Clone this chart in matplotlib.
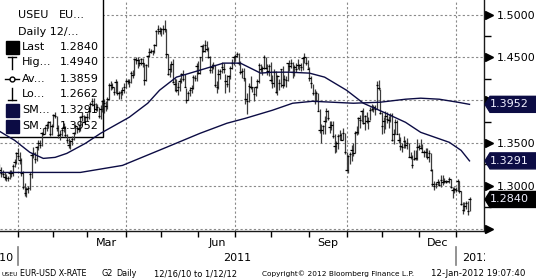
import numpy as np
import pandas as pd
import matplotlib
matplotlib.use("Agg")
import matplotlib.pyplot as plt
from matplotlib.lines import Line2D
from matplotlib.patches import Rectangle, Polygon
from matplotlib.transforms import Bbox, IdentityTransform, blended_transform_factory

plt.rcParams["font.family"] = ["DejaVu Sans"]

# ---- data: USEU EUR-USD daily, 12/16/10 .. 1/12/12 ----
dates = pd.bdate_range("2010-12-16", "2012-01-12")

last_px = [
    # Dec 2010
    1.3230, 1.3185, 1.3145, 1.3140, 1.3100, 1.3085, 1.3090, 1.3145, 1.3145, 1.3235, 1.3280, 1.3380,
    # Jan 2011
    1.3350, 1.3300, 1.3150, 1.2990, 1.2910, 1.2960, 1.2970, 1.3140, 1.3360, 1.3380, 1.3310, 1.3450,
    1.3500, 1.3480, 1.3615, 1.3610, 1.3680, 1.3710, 1.3740, 1.3600, 1.3700,
    # Feb
    1.3830, 1.3810, 1.3670, 1.3590, 1.3610, 1.3650, 1.3690, 1.3590, 1.3540, 1.3480, 1.3520, 1.3550,
    1.3620, 1.3700, 1.3680, 1.3660, 1.3800, 1.3810, 1.3750, 1.3800,
    # Mar
    1.3800, 1.3880, 1.3960, 1.3990, 1.3960, 1.3900, 1.3920, 1.3810, 1.3900, 1.3990, 1.3970, 1.3930,
    1.4020, 1.4180, 1.4180, 1.4160, 1.4100, 1.4210, 1.4090, 1.4080, 1.4100, 1.4120, 1.4160,
    # Apr
    1.4230, 1.4220, 1.4210, 1.4320, 1.4300, 1.4480, 1.4470, 1.4470, 1.4430, 1.4480, 1.4430, 1.4240,
    1.4410, 1.4520, 1.4560, 1.4580, 1.4570, 1.4650, 1.4810, 1.4830, 1.4810,
    # May
    1.4830, 1.4830, 1.4830, 1.4540, 1.4310, 1.4360, 1.4420, 1.4210, 1.4190, 1.4120, 1.4150, 1.4230,
    1.4310, 1.4250, 1.4160, 1.4000, 1.4090, 1.4120, 1.4140, 1.4270, 1.4260, 1.4400,
    # Jun
    1.4320, 1.4500, 1.4640, 1.4580, 1.4650, 1.4600, 1.4510, 1.4350, 1.4390, 1.4410, 1.4180, 1.4150,
    1.4310, 1.4340, 1.4390, 1.4370, 1.4230, 1.4190, 1.4280, 1.4380, 1.4430, 1.4500,
    # Jul
    1.4520, 1.4540, 1.4440, 1.4330, 1.4340, 1.4260, 1.4010, 1.3990, 1.4170, 1.4150, 1.4150, 1.4070,
    1.4150, 1.4230, 1.4410, 1.4370, 1.4380, 1.4500, 1.4380, 1.4340, 1.4400,
    # Aug
    1.4240, 1.4200, 1.4330, 1.4100, 1.4280, 1.4200, 1.4360, 1.4180, 1.4250, 1.4240, 1.4430, 1.4400,
    1.4440, 1.4330, 1.4390, 1.4370, 1.4410, 1.4410, 1.4390, 1.4490, 1.4500, 1.4440, 1.4370,
    # Sep
    1.4260, 1.4200, 1.4090, 1.3990, 1.4080, 1.3880, 1.3650, 1.3650, 1.3700, 1.3760, 1.3880, 1.3790,
    1.3690, 1.3710, 1.3580, 1.3470, 1.3500, 1.3580, 1.3590, 1.3540, 1.3620, 1.3390,
    # Oct
    1.3180, 1.3350, 1.3370, 1.3420, 1.3380, 1.3620, 1.3630, 1.3790, 1.3770, 1.3880, 1.3730, 1.3810,
    1.3760, 1.3760, 1.3890, 1.3900, 1.3920, 1.3900, 1.4180, 1.4140, 1.3850,
    # Nov
    1.3700, 1.3760, 1.3810, 1.3780, 1.3770, 1.3830, 1.3530, 1.3610, 1.3750, 1.3610, 1.3530, 1.3470,
    1.3450, 1.3520, 1.3480, 1.3500, 1.3340, 1.3340, 1.3240, 1.3310, 1.3320, 1.3450,
    # Dec
    1.3460, 1.3440, 1.3400, 1.3390, 1.3400, 1.3340, 1.3380, 1.3180, 1.3020, 1.3000, 1.3020, 1.3040,
    1.3010, 1.3070, 1.3040, 1.3050, 1.3040, 1.3050, 1.3080, 1.2980, 1.2950, 1.2960,
    # Jan 2012
    1.2950, 1.3050, 1.2940, 1.2790, 1.2720, 1.2760, 1.2800, 1.2710, 1.2840,
]

high_px = [
    1.3300, 1.3250, 1.3215, 1.3190, 1.3160, 1.3135, 1.3120, 1.3185, 1.3180, 1.3250, 1.3310, 1.3400,
    1.3440, 1.3400, 1.3320, 1.3170, 1.3030, 1.2990, 1.3000, 1.3160, 1.3380, 1.3450, 1.3400, 1.3460,
    1.3530, 1.3530, 1.3630, 1.3670, 1.3700, 1.3730, 1.3760, 1.3760, 1.3720,
    1.3840, 1.3860, 1.3820, 1.3710, 1.3650, 1.3680, 1.3730, 1.3700, 1.3600, 1.3560, 1.3540, 1.3580,
    1.3630, 1.3720, 1.3700, 1.3720, 1.3820, 1.3860, 1.3830, 1.3820,
    1.3850, 1.3890, 1.3980, 1.4030, 1.4030, 1.3970, 1.3960, 1.3920, 1.3940, 1.4000, 1.4010, 1.3990,
    1.4040, 1.4200, 1.4230, 1.4200, 1.4160, 1.4250, 1.4220, 1.4110, 1.4120, 1.4150, 1.4200,
    1.4250, 1.4250, 1.4250, 1.4340, 1.4350, 1.4490, 1.4510, 1.4500, 1.4480, 1.4490, 1.4490, 1.4430,
    1.4420, 1.4530, 1.4610, 1.4600, 1.4590, 1.4660, 1.4820, 1.4880, 1.4860,
    1.4850, 1.4880, 1.4940, 1.4830, 1.4540, 1.4420, 1.4460, 1.4480, 1.4260, 1.4250, 1.4210, 1.4260,
    1.4320, 1.4350, 1.4310, 1.4140, 1.4110, 1.4150, 1.4180, 1.4300, 1.4290, 1.4430,
    1.4460, 1.4510, 1.4650, 1.4660, 1.4700, 1.4690, 1.4620, 1.4520, 1.4420, 1.4450, 1.4410, 1.4220,
    1.4360, 1.4370, 1.4450, 1.4440, 1.4310, 1.4290, 1.4290, 1.4400, 1.4480, 1.4520,
    1.4540, 1.4560, 1.4550, 1.4460, 1.4380, 1.4380, 1.4260, 1.4090, 1.4200, 1.4280, 1.4160, 1.4160,
    1.4170, 1.4250, 1.4440, 1.4420, 1.4400, 1.4530, 1.4510, 1.4420, 1.4420,
    1.4450, 1.4290, 1.4360, 1.4340, 1.4290, 1.4250, 1.4370, 1.4400, 1.4290, 1.4280, 1.4440, 1.4470,
    1.4480, 1.4450, 1.4410, 1.4440, 1.4480, 1.4420, 1.4440, 1.4510, 1.4550, 1.4500, 1.4470,
    1.4390, 1.4280, 1.4190, 1.4130, 1.4110, 1.4090, 1.3900, 1.3720, 1.3710, 1.3820, 1.3910, 1.3890,
    1.3760, 1.3760, 1.3760, 1.3610, 1.3520, 1.3600, 1.3650, 1.3620, 1.3670, 1.3620,
    1.3400, 1.3360, 1.3400, 1.3480, 1.3500, 1.3640, 1.3700, 1.3800, 1.3830, 1.3890, 1.3910, 1.3830,
    1.3860, 1.3800, 1.3920, 1.3960, 1.3950, 1.3940, 1.4220, 1.4240, 1.4130,
    1.3860, 1.3800, 1.3870, 1.3860, 1.3820, 1.3850, 1.3850, 1.3660, 1.3780, 1.3770, 1.3620, 1.3570,
    1.3500, 1.3580, 1.3530, 1.3560, 1.3500, 1.3400, 1.3360, 1.3420, 1.3420, 1.3550,
    1.3490, 1.3550, 1.3490, 1.3420, 1.3440, 1.3440, 1.3420, 1.3380, 1.3200, 1.3060, 1.3040, 1.3080,
    1.3060, 1.3130, 1.3130, 1.3090, 1.3070, 1.3060, 1.3100, 1.3080, 1.2980, 1.2980,
    1.2980, 1.3080, 1.3060, 1.2940, 1.2810, 1.2810, 1.2820, 1.2820, 1.2870,
]

low_px = [
    1.3180, 1.3130, 1.3100, 1.3105, 1.3070, 1.3060, 1.3060, 1.3080, 1.3105, 1.3120, 1.3220, 1.3260,
    1.3310, 1.3250, 1.3120, 1.2960, 1.2875, 1.2870, 1.2920, 1.2950, 1.3090, 1.3330, 1.3270, 1.3290,
    1.3420, 1.3440, 1.3460, 1.3590, 1.3600, 1.3640, 1.3680, 1.3580, 1.3590,
    1.3690, 1.3790, 1.3640, 1.3560, 1.3540, 1.3580, 1.3630, 1.3570, 1.3500, 1.3440, 1.3430, 1.3480,
    1.3530, 1.3600, 1.3620, 1.3630, 1.3640, 1.3760, 1.3740, 1.3720,
    1.3760, 1.3780, 1.3860, 1.3950, 1.3900, 1.3880, 1.3870, 1.3790, 1.3780, 1.3860, 1.3850, 1.3870,
    1.3900, 1.4000, 1.4120, 1.4130, 1.4060, 1.4080, 1.4060, 1.4010, 1.4020, 1.4060, 1.4090,
    1.4140, 1.4190, 1.4150, 1.4200, 1.4260, 1.4300, 1.4420, 1.4380, 1.4400, 1.4410, 1.4390, 1.4180,
    1.4220, 1.4390, 1.4510, 1.4550, 1.4530, 1.4550, 1.4630, 1.4780, 1.4770,
    1.4750, 1.4780, 1.4800, 1.4490, 1.4300, 1.4270, 1.4330, 1.4200, 1.4110, 1.4100, 1.4060, 1.4110,
    1.4200, 1.4230, 1.4160, 1.3970, 1.4000, 1.4050, 1.4080, 1.4130, 1.4230, 1.4220,
    1.4310, 1.4310, 1.4460, 1.4560, 1.4560, 1.4580, 1.4490, 1.4320, 1.4320, 1.4360, 1.4160, 1.4090,
    1.4130, 1.4250, 1.4320, 1.4320, 1.4080, 1.4150, 1.4100, 1.4250, 1.4360, 1.4410,
    1.4460, 1.4500, 1.4410, 1.4310, 1.4260, 1.4230, 1.3960, 1.3840, 1.3980, 1.4130, 1.4100, 1.3990,
    1.4050, 1.4140, 1.4200, 1.4330, 1.4300, 1.4370, 1.4360, 1.4290, 1.4280,
    1.4210, 1.4140, 1.4160, 1.4080, 1.4060, 1.4120, 1.4150, 1.4140, 1.4170, 1.4150, 1.4220, 1.4340,
    1.4380, 1.4260, 1.4280, 1.4330, 1.4360, 1.4350, 1.4340, 1.4350, 1.4440, 1.4410, 1.4360,
    1.4230, 1.4140, 1.4060, 1.3960, 1.3990, 1.3870, 1.3620, 1.3500, 1.3610, 1.3600, 1.3750, 1.3770,
    1.3620, 1.3650, 1.3560, 1.3380, 1.3390, 1.3430, 1.3540, 1.3530, 1.3530, 1.3370,
    1.3170, 1.3150, 1.3250, 1.3290, 1.3350, 1.3380, 1.3590, 1.3610, 1.3680, 1.3740, 1.3720, 1.3650,
    1.3730, 1.3660, 1.3770, 1.3880, 1.3860, 1.3830, 1.3900, 1.4120, 1.3840,
    1.3600, 1.3620, 1.3660, 1.3730, 1.3670, 1.3740, 1.3520, 1.3490, 1.3600, 1.3600, 1.3500, 1.3420,
    1.3390, 1.3440, 1.3440, 1.3430, 1.3340, 1.3310, 1.3210, 1.3300, 1.3300, 1.3300,
    1.3420, 1.3430, 1.3390, 1.3340, 1.3340, 1.3310, 1.3280, 1.3170, 1.3000, 1.2950, 1.2970, 1.3010,
    1.3000, 1.2990, 1.3010, 1.3030, 1.3030, 1.3040, 1.3030, 1.2970, 1.2860, 1.2920,
    1.2930, 1.2940, 1.2920, 1.2770, 1.2670, 1.2700, 1.2730, 1.2662, 1.2700,
]

# moving averages, read at points along the curves (bar index -> level)
sma_fast_idx = [0, 10, 19, 27, 34, 41, 52, 61, 78, 89, 96, 106, 116, 126, 134, 144, 156, 163,
                173, 185, 194, 207, 217, 229, 242, 251, 268, 275, 280]
sma_fast = [1.3649, 1.3531, 1.3391, 1.3320, 1.3332, 1.3379, 1.3496, 1.3613, 1.3801, 1.3965,
            1.4117, 1.4270, 1.4328, 1.4387, 1.4434, 1.4434, 1.4317, 1.4328, 1.4328, 1.4317,
            1.4270, 1.4117, 1.3965, 1.3860, 1.3742, 1.3625, 1.3508, 1.3414, 1.3291]
sma_slow_idx = [0, 17, 49, 74, 100, 120, 136, 147, 163, 175, 187, 211, 227, 242, 251, 262, 273, 280]
sma_slow = [1.3156, 1.3156, 1.3156, 1.3238, 1.3449, 1.3613, 1.3731, 1.3789, 1.3883, 1.3965,
            1.3988, 1.3965, 1.3977, 1.4012, 1.4024, 1.4012, 1.3977, 1.3952]
avg_px = 1.3859

month_lbl = {3: "Mar", 6: "Jun", 9: "Sep", 12: "Dec"}
y_major = [1.25, 1.30, 1.35, 1.40, 1.45, 1.50]
y_labeled = [1.30, 1.35, 1.45, 1.50]
y_minor = [1.275, 1.325, 1.375, 1.425, 1.475]

assert len(last_px) == len(high_px) == len(low_px) == len(dates)

NAVY = "#0c0c44"
GRID = "#8a8a8a"
W, H = 536, 280
AX_R, AX_B = 484, 230.5

fig = plt.figure(figsize=(W / 100, H / 100), dpi=100, facecolor="white")
ax = fig.add_axes([0, 1 - AX_B / H, AX_R / W, AX_B / H])
ax.set_xlim(1.3, 288.6)
ax.set_ylim(1.2477, 1.5172)

x = np.arange(len(dates))
month_starts = [i for i in range(1, len(dates)) if dates[i].month != dates[i - 1].month]
quarters = [i for i in month_starts if dates[i].month in (1, 4, 7, 10)]

# grid
for y in y_major:
    ax.axhline(y, color=GRID, lw=0.8, ls=(0, (2, 2)), zorder=0.5)
for i in quarters:
    ax.axvline(i, color=GRID, lw=0.8, ls=(0, (2, 2)), zorder=0.5)

# legend panel (sits under the bars, above the grid)
ax.add_patch(Rectangle((-0.02, 1 - 137 / AX_B), 0.02 + 103 / AX_R, 0.05 + 137 / AX_B,
                       transform=ax.transAxes, facecolor="white", edgecolor="black",
                       lw=1, zorder=1, clip_on=False))

# bars
ax.vlines(x, low_px, high_px, color="#3c3c3c", lw=0.9, zorder=2)
ax.hlines(last_px, x - 0.75, x + 0.75, color="black", lw=0.9, zorder=2.2)

# moving averages
ax.plot(sma_fast_idx, sma_fast, color=NAVY, lw=1.0, zorder=2.5)
ax.plot(sma_slow_idx, sma_slow, color=NAVY, lw=1.0, zorder=2.5)

# spines / ticks
for s in ("left", "top"):
    ax.spines[s].set_visible(False)
for s in ("right", "bottom"):
    ax.spines[s].set_color("#1a1a1a")
    ax.spines[s].set_linewidth(1)
ax.yaxis.tick_right()
ax.set_yticks(y_labeled, labels=[f"{v:.4f}" for v in y_labeled])
ax.set_yticks(y_minor, minor=True)
ax.tick_params(axis="y", which="major", length=0, pad=9, labelsize=8)
ax.tick_params(axis="y", which="minor", length=5, width=1, direction="out", color="black")
ax.set_xticks(month_starts, labels=[""] * len(month_starts))
ax.tick_params(axis="x", which="major", length=4, width=1, direction="out", color="black")

yax = blended_transform_factory(ax.transAxes, ax.transData)
ax.plot(np.full(len(y_major), 1.0 + 4.5 / AX_R), y_major, transform=yax, ls="none",
        marker=">", ms=5.5, color="black", clip_on=False)

# month / year labels
xax = blended_transform_factory(ax.transData, ax.transAxes)
for k, i in enumerate(month_starts[:-1]):
    m = dates[i].month
    if m in month_lbl:
        ax.text((i + month_starts[k + 1]) / 2, -12 / AX_B, month_lbl[m], transform=xax,
                ha="center", va="center", fontsize=8)
yr_y = -27.5 / AX_B
ax.text((quarters[0] + quarters[-1]) / 2, yr_y, "2011", transform=xax,
        ha="center", va="center", fontsize=8)
ax.annotate("2010", xy=(quarters[0], yr_y), xycoords=xax, xytext=(-5, 0),
            textcoords="offset pixels", ha="right", va="center", fontsize=8)
t12 = ax.annotate("2012", xy=(quarters[-1], yr_y), xycoords=xax, xytext=(6, 0),
                  textcoords="offset pixels", ha="left", va="center", fontsize=8,
                  annotation_clip=False)
t12.set_clip_box(Bbox.from_extents(0, 0, AX_R + 1, H))
t12.set_clip_on(True)
for i in (quarters[0], quarters[-1]):
    ax.plot([i, i], [-16 / AX_B, -34 / AX_B], transform=xax, color="#808080",
            lw=1.2, clip_on=False)

# value flags at the right
for val, col in ((sma_slow[-1], NAVY), (sma_fast[-1], NAVY), (last_px[-1], "black")):
    yc = ax.transData.transform((0, val))[1]
    x0 = AX_R + 1
    pts = [(x0, yc), (x0 + 5, yc + 8), (W + 2, yc + 8), (W + 2, yc - 8), (x0 + 5, yc - 8)]
    fig.add_artist(Polygon(pts, closed=True, facecolor=col, edgecolor=col,
                           transform=IdentityTransform(), zorder=4))
    fig.text((x0 + 5) / W, yc / H, f"{val:.4f}", color="#f0f0ff", fontsize=8,
             ha="left", va="center", zorder=5)


# legend contents (figure pixel coords, y from top)
def fx(px):
    return px / W


def fy(py):
    return 1 - py / H


def fline(xs, ys, **kw):
    fig.add_artist(Line2D([fx(v) for v in xs], [fy(v) for v in ys],
                          transform=fig.transFigure, **kw))


fig.text(fx(18), fy(15), "USEU", fontsize=8, va="center")
fig.text(fx(59), fy(15), "EU...", fontsize=8, va="center")
fig.text(fx(18), fy(32), "Daily 12/...", fontsize=8, va="center")
rows = [("Last", last_px[-1], 47), ("Hig...", max(high_px), 62), ("Av...", avg_px, 79),
        ("Lo...", min(low_px), 94), ("SM...", sma_fast[-1], 110), ("SM...", sma_slow[-1], 126)]
for name, val, yy in rows:
    fig.text(fx(22), fy(yy), name, fontsize=8, va="center")
    fig.text(fx(99), fy(yy), f"{val:.4f}", fontsize=8, va="center", ha="right")

fig.add_artist(Rectangle((fx(6), fy(54)), 13 / W, 13 / H, transform=fig.transFigure,
                         facecolor="black", edgecolor="black"))
fline([8, 16], [57, 57], color="black", lw=1)
fline([12, 12], [57, 69], color="black", lw=1)
fline([5, 19], [79, 79], color="black", lw=1)
fig.add_artist(Line2D([fx(12)], [fy(79)], transform=fig.transFigure, marker="o", ms=3.5,
                      mfc="white", mec="black", mew=1))
fline([12, 12], [88, 100], color="black", lw=1)
fline([8, 16], [100, 100], color="black", lw=1)
for yy in (104, 120):
    fig.add_artist(Rectangle((fx(6), fy(yy + 13)), 13 / W, 13 / H, transform=fig.transFigure,
                             facecolor=NAVY, edgecolor=NAVY))

# footer: (x start px, text, font size) fitted to the reference widths
footer = [(1, "USEU", 4.4), (19.5, "EUR-USD X-RATE", 5.8), (102, "G2", 5.8), (116, "Daily", 5.8),
          (154, "12/16/10 to 1/12/12", 6.0), (262, "Copyright\u00a9 2012 Bloomberg Finance L.P.", 5.3),
          (431, "12-Jan-2012 19:07:40", 6.2)]
for xp, s, fs in footer:
    fig.text(fx(xp), fy(274), s, fontsize=fs, va="center", ha="left")

fig.savefig("out.png", dpi=100, facecolor="white")
